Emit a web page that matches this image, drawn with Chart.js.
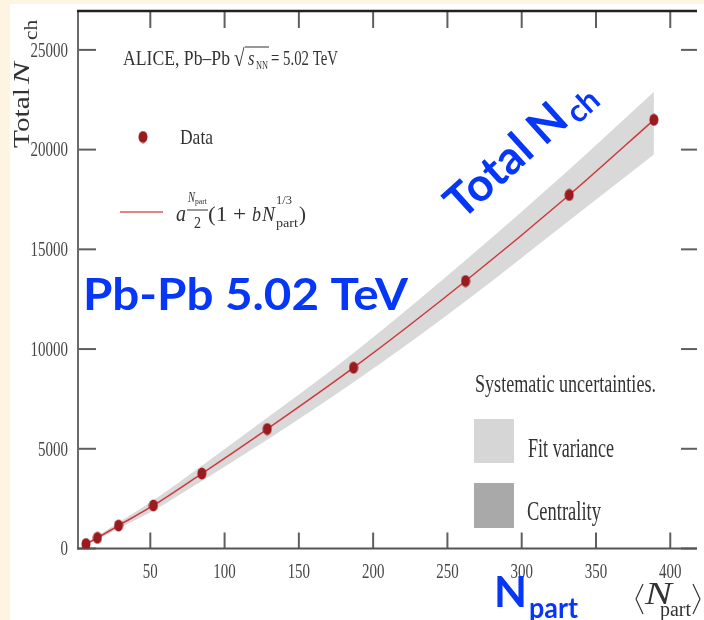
<!DOCTYPE html>
<html>
<head>
<meta charset="utf-8">
<script src="https://cdn.jsdelivr.net/npm/chart.js@4.4.1/dist/chart.umd.min.js"></script>
<style>
  html, body { margin: 0; padding: 0; background: #fdf5e2; }
  body { width: 704px; height: 620px; overflow: hidden; position: relative; }
  #wrap { position: absolute; left: 10px; top: 4px; width: 694px; height: 616px; background: #fff; }
</style>
</head>
<body>
<div id="wrap"><canvas id="chart" width="694" height="616"></canvas></div>
<script>
// valeurs
const nPart = [6.7, 14.4, 28.6, 52.1, 84.7, 128.7, 186.8, 262.2, 332, 389];
const nCh = [223, 535, 1150, 2157, 3758, 5990, 9064, 13412, 17726, 21494];
const bandHigh = [260, 620, 1300, 2420, 4150, 6550, 9800, 14450, 19000, 22900];
const bandLow = [190, 460, 1000, 1900, 3380, 5450, 8330, 12400, 16450, 19760];
const xTicks = [50, 100, 150, 200, 250, 300, 350, 400];
const yTicks = [0, 5000, 10000, 15000, 20000, 25000];

const OX = 10, OY = 4; // décalage du canvas dans la page
const SERIF = '"Liberation Serif", "DejaVu Serif", serif';
const SANS = 'Lato, "Open Sans", sans-serif';
const BLUE = '#0636f6';

const pts = (ys) => nPart.map((x, i) => ({ x: x, y: ys[i] }));

// petit marqueur ovale (la figure d'origine est écrasée en largeur)
const dot = document.createElement('canvas');
dot.width = 10; dot.height = 13;
(function () {
  const c = dot.getContext('2d');
  c.fillStyle = '#9a1a1e';
  c.beginPath();
  c.ellipse(5, 6.5, 4.5, 6, 0, 0, Math.PI * 2);
  c.fill();
})();

// texte avec compression horizontale éventuelle
function txt(ctx, s, x, y, font, color, o) {
  o = o || {};
  ctx.save();
  ctx.font = font;
  ctx.fillStyle = color;
  ctx.textAlign = o.align || 'left';
  ctx.textBaseline = o.base || 'alphabetic';
  ctx.translate(x, y);
  if (o.rot) ctx.rotate(o.rot);
  const m = ctx.measureText(s).width;
  let sx = o.sx || 1;
  if (o.w) sx = o.w / m;
  ctx.scale(sx, 1);
  ctx.fillText(s, 0, 0);
  ctx.restore();
  return m * sx;
}

function line(ctx, x1, y1, x2, y2, color, w) {
  ctx.save();
  ctx.strokeStyle = color;
  ctx.lineWidth = w;
  ctx.beginPath();
  ctx.moveTo(x1, y1);
  ctx.lineTo(x2, y2);
  ctx.stroke();
  ctx.restore();
}

const cadre = {
  id: 'cadre',
  beforeDatasetsDraw(chart) {
    const ctx = chart.ctx;
    const a = chart.chartArea;
    const xs = chart.scales.x, ys = chart.scales.y;
    const grey = '#5f5f5f';
    // ticks intérieurs
    xTicks.forEach(v => {
      const px = xs.getPixelForValue(v);
      line(ctx, px, a.bottom, px, a.bottom - 16, grey, 2);
      line(ctx, px, a.top, px, a.top + 17, grey, 2);
    });
    yTicks.forEach(v => {
      const py = ys.getPixelForValue(v);
      line(ctx, a.left, py, a.left + 18, py, grey, 2);
      line(ctx, a.right, py, a.right - 16, py, grey, 2);
    });
    // axes
    line(ctx, a.left, a.top, a.left, a.bottom + 1, '#6a6a6a', 2);
    line(ctx, a.left - 1, a.bottom, a.right, a.bottom, '#555', 2);
    line(ctx, a.left - 1, a.top, a.right, a.top, '#222', 2.5);
  },
  afterDraw(chart) {
    const ctx = chart.ctx;
    const xs = chart.scales.x, ys = chart.scales.y;
    const lab = '#464646';
    // étiquettes des axes
    xTicks.forEach(v => {
      txt(ctx, String(v), xs.getPixelForValue(v), 572 - OY, '22px ' + SERIF, lab,
        { align: 'center', base: 'middle', sx: 0.68 });
    });
    yTicks.forEach(v => {
      txt(ctx, String(v), 68 - OX, ys.getPixelForValue(v) + 1, '22px ' + SERIF, lab,
        { align: 'right', base: 'middle', sx: 0.68 });
    });

    ctx.save();
    ctx.translate(-OX, -OY); // coordonnées de la page à partir d'ici
    const ink = '#333';

    // titre axe y
    txt(ctx, 'Total', 29, 148, '24px ' + SERIF, ink, { rot: -Math.PI / 2, w: 60 });
    txt(ctx, 'N', 29, 84, 'italic 24px ' + SERIF, ink, { rot: -Math.PI / 2, w: 22 });
    txt(ctx, 'ch', 37, 40, '18px ' + SERIF, ink, { rot: -Math.PI / 2, w: 20 });

    // titre axe x
    line(ctx, 643, 584, 636, 599, ink, 1.2);
    line(ctx, 636, 599, 643, 614, ink, 1.2);
    txt(ctx, 'N', 645, 604, 'italic 32px ' + SERIF, ink, { w: 27 });
    txt(ctx, 'part', 660, 616, '20px ' + SERIF, ink, { w: 31 });
    line(ctx, 693, 584, 700, 599, ink, 1.2);
    line(ctx, 700, 599, 693, 614, ink, 1.2);

    // légende haut gauche
    txt(ctx, 'ALICE, Pb\u2013Pb', 123, 65, '22px ' + SERIF, ink, { w: 107 });
    txt(ctx, '\u221A', 234, 66, '24px ' + SERIF, ink, { sx: 0.8 });
    line(ctx, 245, 47, 269, 47, ink, 1);
    txt(ctx, 's', 248, 65, 'italic 22px ' + SERIF, ink, { sx: 0.75 });
    txt(ctx, 'NN', 256, 69, '12px ' + SERIF, ink, { w: 12 });
    txt(ctx, '= 5.02 TeV', 271, 65, '22px ' + SERIF, ink, { w: 67 });

    ctx.drawImage(dot, 138, 130.5);
    txt(ctx, 'Data', 180, 144, '22px ' + SERIF, ink, { w: 33 });

    line(ctx, 120, 212, 163, 212, '#d9595c', 1.6);
    txt(ctx, 'a', 176, 221, 'italic 24px ' + SERIF, ink, { w: 10 });
    txt(ctx, 'N', 188, 202, 'italic 14px ' + SERIF, ink, { w: 7 });
    txt(ctx, 'part', 195, 204, '9px ' + SERIF, ink, { w: 12 });
    line(ctx, 187, 210, 208, 210, ink, 1);
    txt(ctx, '2', 194, 228, '16px ' + SERIF, ink, { w: 7 });
    txt(ctx, '(1 + ', 208, 221, '22px ' + SERIF, ink, { w: 44 });
    txt(ctx, 'b', 252, 221, 'italic 22px ' + SERIF, ink, { w: 9 });
    txt(ctx, 'N', 262, 221, 'italic 22px ' + SERIF, ink, { w: 13 });
    txt(ctx, '1/3', 276, 204, '12px ' + SERIF, ink, { w: 16 });
    txt(ctx, 'part', 276, 227, '12px ' + SERIF, ink, { w: 22 });
    txt(ctx, ')', 299, 221, '22px ' + SERIF, ink, { w: 7 });

    // légende incertitudes
    txt(ctx, 'Systematic uncertainties.', 475, 392, '26px ' + SERIF, ink, { w: 181 });
    ctx.fillStyle = '#d6d6d6';
    ctx.fillRect(474, 419, 40, 44);
    txt(ctx, 'Fit variance', 528, 457, '28px ' + SERIF, ink, { w: 86 });
    ctx.fillStyle = '#a9a9a9';
    ctx.fillRect(474, 483, 40, 45);
    txt(ctx, 'Centrality', 527, 520, '28px ' + SERIF, ink, { w: 74 });

    // textes bleus ajoutés sur la diapo
    txt(ctx, 'Pb-Pb 5.02 TeV', 83, 310, 'bold 44px ' + SANS, BLUE, { w: 325 });
    const ang = -42 * Math.PI / 180;
    const wT = txt(ctx, 'Total N', 462, 221, 'bold 46px ' + SANS, BLUE, { rot: ang });
    const ex = 462 + (wT + 4) * Math.cos(ang) - 6 * Math.sin(ang);
    const ey = 221 + (wT + 4) * Math.sin(ang) + 6 * Math.cos(ang);
    txt(ctx, 'ch', ex, ey, 'bold 31px ' + SANS, BLUE, { rot: ang });
    txt(ctx, 'N', 494, 607, 'bold 42px ' + SANS, BLUE, { w: 33 });
    txt(ctx, 'part', 529, 618, 'bold 28px ' + SANS, BLUE, { w: 49 });
    ctx.restore();
  }
};

new Chart(document.getElementById('chart'), {
  type: 'scatter',
  data: {
    datasets: [
      {
        label: 'bande haute',
        data: pts(bandHigh),
        order: 4,
        showLine: true,
        borderWidth: 0,
        borderColor: 'rgba(0,0,0,0)',
        pointRadius: 0,
        backgroundColor: '#d9d9d9',
        fill: 1,
        cubicInterpolationMode: 'monotone'
      },
      {
        label: 'bande basse',
        data: pts(bandLow),
        order: 3,
        showLine: true,
        borderWidth: 0,
        borderColor: 'rgba(0,0,0,0)',
        pointRadius: 0,
        fill: false,
        cubicInterpolationMode: 'monotone'
      },
      {
        label: 'ajustement',
        data: pts(nCh),
        order: 2,
        showLine: true,
        borderColor: '#d0383c',
        borderWidth: 1.5,
        pointRadius: 0,
        fill: false,
        cubicInterpolationMode: 'monotone'
      },
      {
        label: 'Data',
        data: pts(nCh),
        order: 1,
        showLine: false,
        pointStyle: dot,
        pointRadius: 6
      }
    ]
  },
  options: {
    responsive: false,
    animation: false,
    devicePixelRatio: 1,
    layout: { padding: { top: 1, right: 0, left: 0, bottom: 0 } },
    plugins: { legend: { display: false }, tooltip: { enabled: false } },
    scales: {
      x: {
        type: 'linear',
        min: 1.33,
        max: 418,
        ticks: { display: false },
        grid: { display: false },
        border: { display: false },
        afterFit(s) { s.height = 71.5; }
      },
      y: {
        min: 0,
        max: 26950,
        ticks: { display: false },
        grid: { display: false },
        border: { display: false },
        afterFit(s) { s.width = 68; }
      }
    }
  },
  plugins: [cadre]
});
</script>
</body>
</html>
